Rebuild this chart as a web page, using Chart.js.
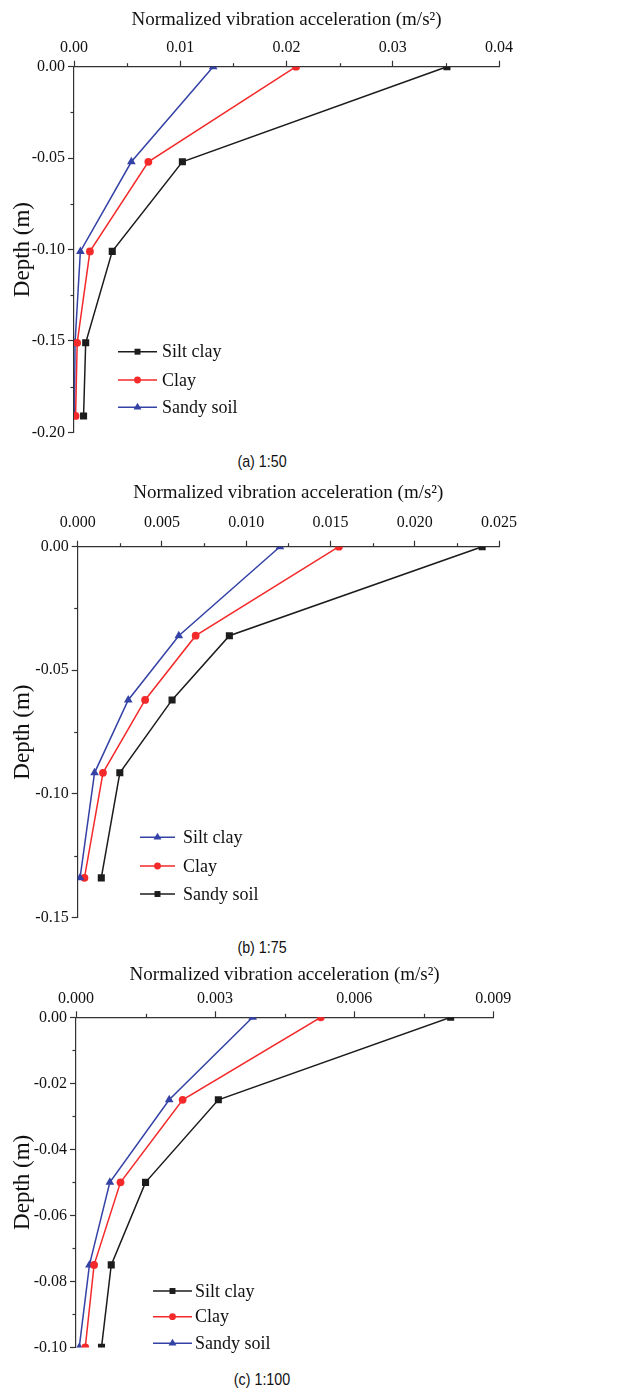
<!DOCTYPE html>
<html>
<head>
<meta charset="utf-8">
<script src="https://cdn.jsdelivr.net/npm/chart.js@4.4.1/dist/chart.umd.min.js"></script>
<style>
  html, body { margin: 0; padding: 0; background: #fff; }
  body { width: 619px; height: 1391px; position: relative; overflow: hidden; }
  .wrap { position: absolute; left: 0; width: 619px; }
  .cap { position: absolute; font-family: "Liberation Sans", Arial, sans-serif; font-size: 17px; color: #111;
         transform: translate(-50%, -50%) scaleX(0.84); white-space: nowrap; }
</style>
</head>
<body>
<div class="wrap" style="top:0px;height:445px"><canvas id="cA" width="619" height="445"></canvas></div>
<div class="cap" style="left:262px;top:462px">(a) 1:50</div>
<div class="wrap" style="top:475px;height:455px"><canvas id="cB" width="619" height="455"></canvas></div>
<div class="cap" style="left:262px;top:948px">(b) 1:75</div>
<div class="wrap" style="top:955px;height:405px"><canvas id="cC" width="619" height="405"></canvas></div>
<div class="cap" style="left:262px;top:1380px">(c) 1:100</div>
<script>
// ---------- DATA ----------
// (a) 1:50
const depthA = [0, -0.052, -0.101, -0.151, -0.191];
const siltClayA = [0.0351, 0.0102, 0.0036, 0.0011, 0.0009];
const clayA = [0.0209, 0.0070, 0.0015, 0.0003, 0.00015];
const sandySoilA = [0.0131, 0.0054, 0.0006, 0.0001, 0.00004];
const xTicksA = [0, 0.01, 0.02, 0.03, 0.04];
const yTicksA = [0, -0.05, -0.10, -0.15, -0.20];

// (b) 1:75  (legend order as in the figure)
const depthB = [0, -0.036, -0.062, -0.0915, -0.134];
const siltClayB = [0.0120, 0.0060, 0.0030, 0.0010, 0.00014];   // blue triangles
const clayB = [0.0155, 0.0070, 0.0040, 0.0015, 0.0004];        // red circles
const sandySoilB = [0.0240, 0.0090, 0.0056, 0.0025, 0.0014];   // black squares
const xTicksB = [0, 0.005, 0.010, 0.015, 0.020, 0.025];
const yTicksB = [0, -0.05, -0.10, -0.15];

// (c) 1:100
const depthC = [0, -0.025, -0.05, -0.075, -0.1];
const siltClayC = [0.00808, 0.00307, 0.0015, 0.00076, 0.00055];
const clayC = [0.00528, 0.0023, 0.00096, 0.00039, 0.0002];
const sandySoilC = [0.00381, 0.00201, 0.00073, 0.00029, 0.00007];
const xTicksC = [0, 0.003, 0.006, 0.009];
const yTicksC = [0, -0.02, -0.04, -0.06, -0.08, -0.10];

const xTitle = 'Normalized vibration acceleration (m/s\u00B2)';
const yTitle = 'Depth (m)';

// ---------- STYLE ----------
const BLACK = '#1c1c1c', RED = '#f42a2a', BLUE = '#3442a6', AXIS = '#333333';
const SERIF = '"Liberation Serif", "Times New Roman", serif';
const styles = {
  black: { color: BLACK, pointStyle: 'rect', radius: 5, legendRadius: 4.2 },
  red: { color: RED, pointStyle: 'circle', radius: 3.9, legendRadius: 3.4 },
  blue: { color: BLUE, pointStyle: 'triangle', radius: 5, legendRadius: 4.6 }
};

function ds(label, xs, ys, st) {
  const s = styles[st];
  return {
    label,
    data: xs.map((x, i) => ({ x, y: ys[i] })),
    borderColor: s.color, backgroundColor: s.color,
    borderWidth: 1.5, pointStyle: s.pointStyle, pointRadius: s.radius,
    pointBorderWidth: 0, pointBackgroundColor: s.color, pointBorderColor: s.color,
    tension: 0, fill: false, clip: 0, legendRadius: s.legendRadius
  };
}

const isOn = (v, list) => list.some(t => Math.abs(v - t) < 1e-9);

const helperPlugin = {
  id: 'helper',
  afterDraw(chart, args, opts) {
    const ctx = chart.ctx;
    ctx.save();
    ctx.strokeStyle = AXIS; ctx.lineWidth = 1.2;
    const xs = chart.scales.x, ys = chart.scales.y;
    xs.ticks.forEach(t => {
      if (isOn(t.value, opts.xMajor)) return;
      const p = Math.round(xs.getPixelForValue(t.value)) + 0.5;
      ctx.beginPath(); ctx.moveTo(p, xs.bottom); ctx.lineTo(p, xs.bottom - 3.5); ctx.stroke();
    });
    ys.ticks.forEach(t => {
      if (isOn(t.value, opts.yMajor)) return;
      const p = Math.round(ys.getPixelForValue(t.value)) + 0.5;
      ctx.beginPath(); ctx.moveTo(ys.right, p); ctx.lineTo(ys.right - 3.5, p); ctx.stroke();
    });
    ctx.restore();
    const L = opts.legend;
    ctx.save();
    chart.data.datasets.forEach((d, i) => {
      const y = L.ys[i];
      ctx.strokeStyle = d.borderColor; ctx.lineWidth = 1.5;
      ctx.beginPath(); ctx.moveTo(L.x1, y); ctx.lineTo(L.x2, y); ctx.stroke();
      ctx.fillStyle = d.pointBackgroundColor;
      Chart.helpers.drawPoint(ctx, { pointStyle: d.pointStyle, radius: d.legendRadius, rotation: 0, borderWidth: 0 }, (L.x1 + L.x2) / 2, y);
      ctx.fillStyle = '#111';
      ctx.font = '18px ' + SERIF;
      ctx.textBaseline = 'middle'; ctx.textAlign = 'left';
      ctx.fillText(d.label, L.tx, y + 1);
    });
    ctx.restore();
  }
};

function makeChart(id, cfg) {
  const H = document.getElementById(id).height;
  return new Chart(document.getElementById(id), {
    type: 'line',
    data: { datasets: cfg.datasets },
    plugins: [helperPlugin],
    options: {
      responsive: false, animation: false,
      layout: { padding: { left: 0, top: 0, right: 619 - cfg.area.right, bottom: H - cfg.area.bottom } },
      plugins: {
        legend: { display: false }, tooltip: { enabled: false },
        helper: { xMajor: cfg.xTicks, yMajor: cfg.yTicks, legend: cfg.legend }
      },
      scales: {
        x: {
          type: 'linear', position: 'top', min: cfg.xMin, max: cfg.xMax,
          afterFit: s => { s.height = cfg.area.top; },
          border: { display: true, color: AXIS, width: 1.2 },
          grid: { drawOnChartArea: false, drawTicks: true, tickLength: 6,
                  tickColor: c => (c.tick && isOn(c.tick.value, cfg.xTicks)) ? AXIS : 'rgba(0,0,0,0)', tickWidth: 1.2 },
          ticks: { stepSize: cfg.xStep, autoSkip: false, maxRotation: 0, padding: cfg.xPad,
                   color: '#111', font: { family: SERIF, size: 16 },
                   callback: v => isOn(v, cfg.xTicks) ? v.toFixed(cfg.xDec) : '' },
          title: { display: true, text: xTitle, color: '#111', font: { family: SERIF, size: 19 },
                   padding: { top: cfg.titlePad, bottom: 0 } }
        },
        y: {
          type: 'linear', position: 'left', min: cfg.yMin, max: 0,
          afterFit: s => { s.width = cfg.area.left; },
          border: { display: true, color: AXIS, width: 1.2 },
          grid: { drawOnChartArea: false, drawTicks: true, tickLength: 6,
                  tickColor: c => (c.tick && isOn(c.tick.value, cfg.yTicks)) ? AXIS : 'rgba(0,0,0,0)', tickWidth: 1.2 },
          ticks: { stepSize: cfg.yStep, autoSkip: false, padding: 3, color: '#111',
                   font: { family: SERIF, size: 16 },
                   callback: v => isOn(v, cfg.yTicks) ? (Math.abs(v) < 1e-12 ? '0.00' : v.toFixed(2)) : '' },
          title: { display: true, text: yTitle, color: '#111', font: { family: SERIF, size: 23 },
                   padding: { top: 9, bottom: 0 } }
        }
      }
    }
  });
}

makeChart('cA', {
  datasets: [ds('Silt clay', siltClayA, depthA, 'black'), ds('Clay', clayA, depthA, 'red'), ds('Sandy soil', sandySoilA, depthA, 'blue')],
  area: { left: 74, top: 66.7, right: 499, bottom: 436 },
  xMin: 0, xMax: 0.04, xStep: 0.005, xTicks: xTicksA, xDec: 2, xPad: 3, titlePad: 8.5,
  yMin: -0.2, yStep: 0.025, yTicks: yTicksA,
  legend: { x1: 118, x2: 157, tx: 162, ys: [351.7, 380, 407.3] }
});

makeChart('cB', {
  datasets: [ds('Silt clay', siltClayB, depthB, 'blue'), ds('Clay', clayB, depthB, 'red'), ds('Sandy soil', sandySoilB, depthB, 'black')],
  area: { left: 77.7, top: 71.7, right: 499, bottom: 446 },
  xMin: 0, xMax: 0.025, xStep: 0.0025, xTicks: xTicksB, xDec: 3, xPad: 8, titlePad: 7,
  yMin: -0.15, yStep: 0.025, yTicks: yTicksB,
  legend: { x1: 140, x2: 175, tx: 183, ys: [362.3, 391, 419] }
});

makeChart('cC', {
  datasets: [ds('Silt clay', siltClayC, depthC, 'black'), ds('Clay', clayC, depthC, 'red'), ds('Sandy soil', sandySoilC, depthC, 'blue')],
  area: { left: 76, top: 62.3, right: 493.3, bottom: 398.3 },
  xMin: 0, xMax: 0.009, xStep: 0.0015, xTicks: xTicksC, xDec: 3, xPad: 3, titlePad: 8.5,
  yMin: -0.1, yStep: 0.01, yTicks: yTicksC,
  legend: { x1: 153, x2: 192, tx: 195, ys: [336, 361.7, 388.3] }
});
</script>
</body>
</html>
